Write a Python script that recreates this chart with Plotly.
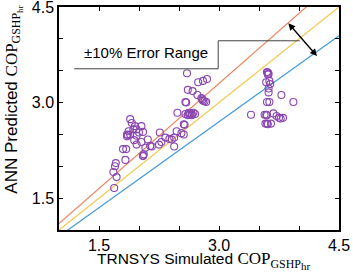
import plotly.graph_objects as go

# Scatter data (TRNSYS simulated vs ANN predicted COP)
sim_x = [1.69, 1.72, 1.68, 1.70, 1.71, 1.83, 1.80, 1.84, 2.05, 2.06, 2.05,
         1.89, 1.91, 1.95, 2.03, 1.97, 1.87, 1.85, 1.86, 1.89, 1.93, 2.05, 2.00,
         1.97, 1.85, 1.94, 1.97, 2.03, 2.11, 2.14, 2.08, 2.16, 2.25, 2.26, 2.28,
         2.33, 2.38,
         2.47, 2.53, 2.56, 2.44, 2.41, 2.44, 2.48, 2.56, 2.57, 2.58, 2.59, 2.60,
         2.61, 2.67, 2.73, 2.74, 2.80, 2.85, 2.78, 2.80, 2.84, 2.79, 2.82,
         2.58, 2.61, 2.64, 2.66, 2.68, 2.70, 2.62, 2.66, 2.63,
         3.60, 3.61, 3.62, 3.61, 3.59, 3.63, 3.64, 3.62, 3.62, 3.78, 3.60, 3.63,
         3.93, 3.40, 3.57, 3.59, 3.60, 3.68, 3.72, 3.75, 3.80, 3.77, 3.58, 3.60,
         3.61, 3.65]
ann_y = [1.66, 1.83, 1.91, 2.00, 2.05, 2.10, 2.27, 2.27, 2.16, 2.19, 2.17,
         2.74, 2.68, 2.63, 2.63, 2.58, 2.55, 2.50, 2.49, 2.50, 2.58, 2.54, 2.53,
         2.48, 2.47, 2.41, 2.34, 2.38, 2.42, 2.32, 2.29, 2.31, 2.34, 2.53, 2.38,
         2.45, 2.43,
         2.55, 2.52, 2.50, 2.45, 2.42, 2.31, 2.84, 2.66, 2.65, 3.01, 3.00, 3.46,
         3.20, 3.18, 3.12, 3.32, 3.34, 3.37, 3.07, 3.03, 3.01, 3.05, 3.02,
         2.82, 2.80, 2.83, 2.80, 2.84, 2.82, 2.84, 2.82, 2.81,
         3.48, 3.47, 3.45, 3.44, 3.32, 3.34, 3.29, 3.22, 3.16, 3.12, 3.01, 3.01,
         3.01, 2.81, 2.81, 2.81, 2.80, 2.83, 2.79, 2.76, 2.76, 2.75, 2.67, 2.67,
         2.66, 2.67]

# Reference lines: +10%, perfect fit, -10%
line_factors = [1.1, 1.0, 0.9]
line_colors = ["#ec8560", "#f4c74a", "#3f9bd8"]
line_x = [1.0, 4.5]

tick_vals = [1.0, 1.5, 2.0, 2.5, 3.0, 3.5, 4.0, 4.5]
tick_text = ["", "1.5", "", "", "3.0", "", "", "4.5"]

x_title = ("TRNSYS Simulated <span style='font-family:Liberation Serif, serif;"
           "font-size:17px'>COP<sub>GSHP<sub><span style='font-size:11px'>hr"
           "</span></sub></sub></span>")
y_title = ("ANN Predicted <span style='font-family:Liberation Serif, serif;"
           "font-size:17px'>COP<sub>GSHP<sub><span style='font-size:9px'>hr"
           "</span></sub></sub></span>")

fig = go.Figure()
for f, c in zip(line_factors, line_colors):
    fig.add_trace(go.Scatter(x=line_x, y=[f * v for v in line_x], mode="lines",
                             line=dict(color=c, width=1.2), showlegend=False,
                             hoverinfo="skip"))

fig.add_trace(go.Scatter(x=sim_x, y=ann_y, mode="markers", showlegend=False,
                         marker=dict(symbol="circle-open", size=7,
                                     color="#8a45b0", line=dict(width=1.1))))

axis_common = dict(range=[1.0, 4.5], tickvals=tick_vals, ticktext=tick_text,
                   ticks="inside", ticklen=4, tickwidth=1, tickcolor="black",
                   showline=True, linecolor="black", linewidth=1.5,
                   mirror="ticks", showgrid=False, zeroline=False,
                   automargin=False, ticklabeloverflow="allow",
                   tickfont=dict(size=16, color="black"))

fig.update_xaxes(**axis_common)
fig.update_yaxes(**axis_common)

# Axis titles as annotations for exact placement
fig.add_annotation(xref="paper", yref="paper", x=0.515, y=-0.137,
                   xanchor="center", yanchor="middle", showarrow=False,
                   text=x_title, font=dict(size=15.5, color="black"))
fig.add_annotation(xref="paper", yref="paper", x=-0.164, y=0.585,
                   xanchor="center", yanchor="middle", showarrow=False,
                   textangle=-90, text=y_title,
                   font=dict(size=17, color="black"))

# Error-range label box lines
fig.add_shape(type="line", x0=1.19, y0=3.53, x1=2.99, y1=3.53,
              line=dict(color="#444", width=1))
fig.add_shape(type="line", x0=2.99, y0=3.53, x1=2.99, y1=3.97,
              line=dict(color="#444", width=1))
fig.add_shape(type="line", x0=2.99, y0=3.97, x1=4.01, y1=3.97,
              line=dict(color="#444", width=1))

fig.add_annotation(x=2.09, y=3.79, text="±10% Error Range", showarrow=False,
                   font=dict(size=15, color="black"))
fig.add_annotation(x=4.225, y=3.73, ax=3.85, ay=4.27, xref="x", yref="y",
                   axref="x", ayref="y", text="", showarrow=True,
                   arrowhead=2, startarrowhead=2, arrowside="end+start",
                   arrowsize=1, arrowwidth=1.4, arrowcolor="black")

fig.update_layout(width=353, height=277,
                  margin=dict(l=59, r=14, t=7, b=47),
                  paper_bgcolor="white", plot_bgcolor="white",
                  font=dict(family="Arial, Liberation Sans, sans-serif",
                            color="black"))

fig.write_html("out.html", config={"displayModeBar": False},
               post_script="document.body.style.margin='0';"
                           "document.body.style.overflow='hidden';")
